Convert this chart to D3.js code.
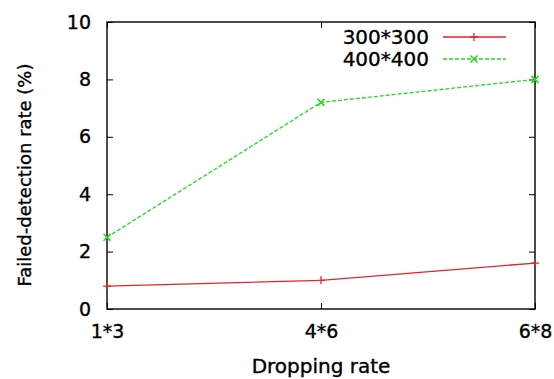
<!DOCTYPE html>
<html>
<head>
<meta charset="utf-8">
<script src="https://cdn.jsdelivr.net/npm/d3@7"></script>
<style>
  body { margin: 0; background: #fff; }
  text { font-family: "DejaVu Sans", sans-serif; fill: #000; stroke: #000; stroke-width: 0.35px; }
</style>
</head>
<body>
<div id="chart"></div>
<script>
// data
var categories = ["1*3", "4*6", "6*8"];
var seriesNames = ["300*300", "400*400"];
var values300 = [0.8, 1.0, 1.6];
var values400 = [2.5, 7.2, 8.0];
var yTicks = [0, 2, 4, 6, 8, 10];

var width = 554;
var height = 379;
var margin = { left: 107, right: 19, top: 22, bottom: 70 };

var svg = d3.select("#chart").append("svg")
    .attr("width", width)
    .attr("height", height);

var x = d3.scalePoint()
    .domain(categories)
    .range([margin.left, width - margin.right])
    .padding(0);

var y = d3.scaleLinear()
    .domain([0, 10])
    .range([height - margin.bottom, margin.top]);

var plotW = width - margin.right - margin.left;
var plotH = height - margin.bottom - margin.top;

// axes with inward ticks (gnuplot style)
svg.append("g")
    .attr("transform", "translate(" + margin.left + ",0)")
    .call(d3.axisLeft(y).tickValues(yTicks).tickSizeInner(-6).tickSizeOuter(0).tickPadding(16));

svg.append("g")
    .attr("transform", "translate(" + (width - margin.right) + ",0)")
    .call(d3.axisRight(y).tickValues(yTicks).tickSizeInner(-6).tickSizeOuter(0).tickFormat(""));

svg.append("g")
    .attr("transform", "translate(0," + (height - margin.bottom) + ")")
    .call(d3.axisBottom(x).tickSizeInner(-6).tickSizeOuter(0).tickPadding(16));

svg.append("g")
    .attr("transform", "translate(0," + margin.top + ")")
    .call(d3.axisTop(x).tickSizeInner(-6).tickSizeOuter(0).tickFormat(""));

svg.selectAll(".domain").remove();
svg.selectAll(".tick line").attr("stroke", "#000").attr("stroke-width", 1);
svg.selectAll(".tick text")
    .style("font-family", "DejaVu Sans")
    .style("font-size", "19px")
    .attr("fill", "#000");

// border
svg.append("rect")
    .attr("x", margin.left)
    .attr("y", margin.top)
    .attr("width", plotW)
    .attr("height", plotH)
    .attr("fill", "none")
    .attr("stroke", "#000")
    .attr("stroke-width", 1.4);

// axis titles
svg.append("text")
    .attr("x", margin.left + plotW / 2)
    .attr("y", 373)
    .attr("text-anchor", "middle")
    .style("font-size", "20px")
    .text("Dropping rate");

svg.append("text")
    .attr("transform", "translate(31,175) rotate(-90)")
    .attr("text-anchor", "middle")
    .style("font-size", "18px")
    .text("Failed-detection rate (%)");

var line = d3.line()
    .x(function (d, i) { return x(categories[i]); })
    .y(function (d) { return y(d); });

var red = "#e0262c";
var green = "#1edc1e";

function plus(g, cx, cy, color) {
    g.append("path")
        .attr("d", "M" + (cx - 4) + "," + cy + "H" + (cx + 4) + "M" + cx + "," + (cy - 4) + "V" + (cy + 4))
        .attr("stroke", color)
        .attr("stroke-width", 1.3)
        .attr("fill", "none");
}

function cross(g, cx, cy, color) {
    g.append("path")
        .attr("d", "M" + (cx - 3.5) + "," + (cy - 3.5) + "L" + (cx + 3.5) + "," + (cy + 3.5) +
            "M" + (cx - 3.5) + "," + (cy + 3.5) + "L" + (cx + 3.5) + "," + (cy - 3.5))
        .attr("stroke", color)
        .attr("stroke-width", 1.5)
        .attr("fill", "none");
}

// series 300*300
svg.append("path")
    .datum(values300)
    .attr("d", line)
    .attr("fill", "none")
    .attr("stroke", red)
    .attr("stroke-width", 1.3);

var g300 = svg.append("g");
values300.forEach(function (v, i) {
    plus(g300, x(categories[i]), y(v), red);
});

// series 400*400
svg.append("path")
    .datum(values400)
    .attr("d", line)
    .attr("fill", "none")
    .attr("stroke", green)
    .attr("stroke-width", 1.3)
    .attr("stroke-dasharray", "4,2");

var g400 = svg.append("g");
values400.forEach(function (v, i) {
    cross(g400, x(categories[i]), y(v), green);
});

// legend
var legend = svg.append("g");
var legendRows = [37, 59];

legend.append("text")
    .attr("x", 429)
    .attr("y", legendRows[0] + 7)
    .attr("text-anchor", "end")
    .style("font-size", "20px")
    .text(seriesNames[0]);
legend.append("line")
    .attr("x1", 443).attr("x2", 506)
    .attr("y1", legendRows[0]).attr("y2", legendRows[0])
    .attr("stroke", red)
    .attr("stroke-width", 1.3);
plus(legend, 474, legendRows[0], red);

legend.append("text")
    .attr("x", 429)
    .attr("y", legendRows[1] + 7)
    .attr("text-anchor", "end")
    .style("font-size", "20px")
    .text(seriesNames[1]);
legend.append("line")
    .attr("x1", 443).attr("x2", 506)
    .attr("y1", legendRows[1]).attr("y2", legendRows[1])
    .attr("stroke", green)
    .attr("stroke-width", 1.3)
    .attr("stroke-dasharray", "4,2");
cross(legend, 474, legendRows[1], green);
</script>
</body>
</html>
